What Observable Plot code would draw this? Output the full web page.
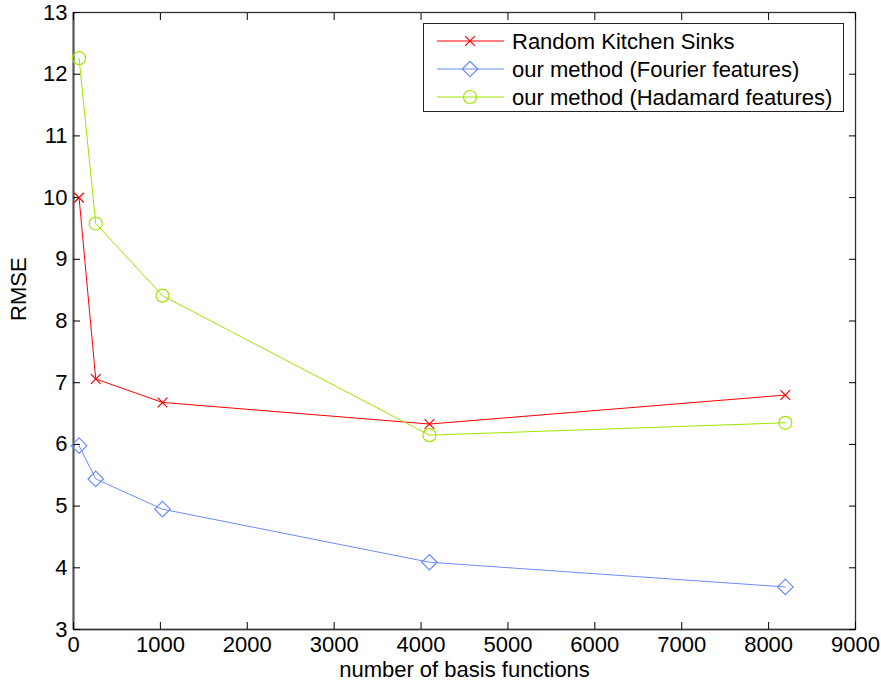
<!DOCTYPE html>
<html>
<head>
<meta charset="utf-8">
<script src="https://cdn.jsdelivr.net/npm/d3@7"></script>
<script src="https://cdn.jsdelivr.net/npm/@observablehq/plot@0.6"></script>
<style>
  html, body { margin: 0; padding: 0; background: #fff; }
  #wrap { position: relative; width: 881px; height: 684px; font-family: "Liberation Sans", Arial, Helvetica, sans-serif; }
  #legend { position: absolute; left: 423px; top: 23px; width: 421px; height: 89px; border: 1px solid #222; background: #fff; box-sizing: border-box; }
</style>
</head>
<body>
<div id="wrap"></div>
<script>
const basis = [64, 256, 1024, 4096, 8192];
const rks = [10.0, 7.06, 6.68, 6.33, 6.80];
const fourier = [5.98, 5.44, 4.95, 4.09, 3.69];
const hadamard = [12.26, 9.58, 8.41, 6.15, 6.35];
const seriesNames = ["Random Kitchen Sinks", "our method (Fourier features)", "our method (Hadamard features)"];
const seriesColors = ["#ff0000", "#6b8cff", "#9ee600"];
const xTicks = [0, 1000, 2000, 3000, 4000, 5000, 6000, 7000, 8000, 9000];
const yTicks = [3, 4, 5, 6, 7, 8, 9, 10, 11, 12, 13];

const rows = (vals, s) => basis.map((b, i) => ({x: b, y: vals[i], s}));
const dRKS = rows(rks, seriesNames[0]);
const dF = rows(fourier, seriesNames[1]);
const dH = rows(hadamard, seriesNames[2]);

const font = "\"Liberation Sans\", Arial, Helvetica, sans-serif";
const fs = 22;

const chart = Plot.plot({
  width: 881,
  height: 684,
  marginLeft: 73,
  marginRight: 26,
  marginTop: 12,
  marginBottom: 55,
  style: {fontFamily: font, fontSize: fs + "px", background: "#fff", color: "#000"},
  x: {domain: [0, 9000]},
  y: {domain: [3, 13]},
  marks: [
    Plot.frame({stroke: "#333", strokeWidth: 1.3}),
    Plot.ruleX([0], {stroke: "#555", strokeWidth: 2}),
    Plot.ruleY([3], {stroke: "#333", strokeWidth: 1.5}),
    Plot.axisX(xTicks, {anchor: "bottom", tickSize: 0, tickPadding: 7, tickFormat: d => String(d), label: null, fontSize: fs}),
    Plot.axisX(xTicks, {anchor: "bottom", tickSize: -7, tickFormat: () => "", label: null}),
    Plot.axisX(xTicks, {anchor: "top", tickSize: -7, tickFormat: () => "", label: null}),
    Plot.axisY(yTicks, {anchor: "left", tickSize: 0, tickPadding: 6, tickFormat: d => String(d), label: null, fontSize: fs}),
    Plot.axisY(yTicks, {anchor: "left", tickSize: -7, tickFormat: () => "", label: null}),
    Plot.axisY(yTicks, {anchor: "right", tickSize: -7, tickFormat: () => "", label: null}),
    Plot.line(dRKS, {x: "x", y: "y", stroke: seriesColors[0], strokeWidth: 1}),
    Plot.line(dF, {x: "x", y: "y", stroke: seriesColors[1], strokeWidth: 1}),
    Plot.line(dH, {x: "x", y: "y", stroke: seriesColors[2], strokeWidth: 1}),
    Plot.dot(dRKS, {x: "x", y: "y", symbol: "times", r: 4.5, stroke: seriesColors[0], strokeWidth: 1.2}),
    Plot.dot(dF, {x: "x", y: "y", symbol: "diamond2", r: 7, fill: "none", stroke: seriesColors[1], strokeWidth: 1.2}),
    Plot.dot(dH, {x: "x", y: "y", symbol: "circle", r: 6.5, fill: "none", stroke: seriesColors[2], strokeWidth: 1.2}),
    Plot.text(["number of basis functions"], {frameAnchor: "bottom", dy: 47, fontSize: fs, fill: "#000"}),
    Plot.text(["RMSE"], {frameAnchor: "left", dx: -55, rotate: -90, fontSize: fs, fill: "#000"})
  ]
});
document.getElementById("wrap").appendChild(chart);

// legend
const legend = document.createElement("div");
legend.id = "legend";
const ns = "http://www.w3.org/2000/svg";
const lsvg = document.createElementNS(ns, "svg");
lsvg.setAttribute("width", 421);
lsvg.setAttribute("height", 89);
lsvg.style.display = "block";
const symbols = [d3.symbolTimes, d3.symbolDiamond2, d3.symbolCircle];
const symbolSizes = [4.5, 7, 6.5];
seriesNames.forEach((name, i) => {
  const cy = 17 + i * 28;
  const line = document.createElementNS(ns, "line");
  line.setAttribute("x1", 13); line.setAttribute("x2", 80);
  line.setAttribute("y1", cy); line.setAttribute("y2", cy);
  line.setAttribute("stroke", seriesColors[i]); line.setAttribute("stroke-width", 1);
  lsvg.appendChild(line);
  const p = document.createElementNS(ns, "path");
  const r = symbolSizes[i];
  p.setAttribute("d", d3.symbol(symbols[i], Math.PI * r * r)());
  p.setAttribute("transform", `translate(46,${cy})`);
  p.setAttribute("fill", "none");
  p.setAttribute("stroke", seriesColors[i]);
  p.setAttribute("stroke-width", 1.2);
  lsvg.appendChild(p);
  const t = document.createElementNS(ns, "text");
  t.setAttribute("x", 88); t.setAttribute("y", cy);
  t.setAttribute("dy", "0.35em");
  t.setAttribute("font-size", fs);
  t.setAttribute("font-family", font);
  t.textContent = name;
  lsvg.appendChild(t);
});
legend.appendChild(lsvg);
document.getElementById("wrap").appendChild(legend);
</script>
</body>
</html>
